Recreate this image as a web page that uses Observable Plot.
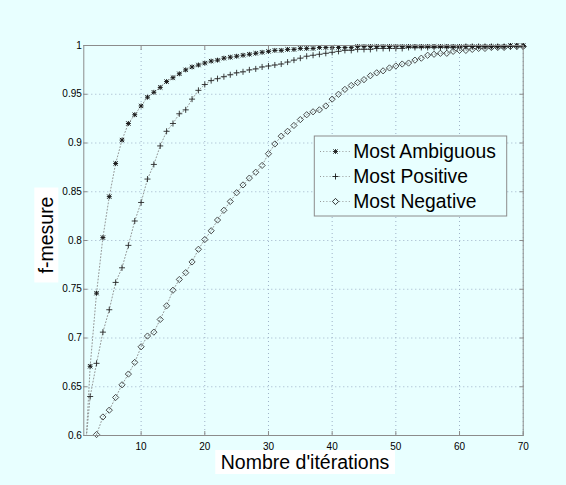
<!DOCTYPE html>
<html><head><meta charset="utf-8">
<script src="https://cdn.jsdelivr.net/npm/d3@7"></script>
<script src="https://cdn.jsdelivr.net/npm/@observablehq/plot@0.6"></script>
<style>html,body{margin:0;padding:0;background:#e8ffff;}</style>
</head><body><div id="chart"></div>
<script>
// ---- data ----
const iterations = [1,2,3,4,5,6,7,8,9,10,11,12,13,14,15,16,17,18,19,20,21,22,23,24,25,26,27,28,29,30,31,32,33,34,35,36,37,38,39,40,41,42,43,44,45,46,47,48,49,50,51,52,53,54,55,56,57,58,59,60,61,62,63,64,65,66,67,68,69,70];
const mostAmbiguous = [0.55,0.671,0.746,0.803,0.845,0.879,0.903,0.920,0.929,0.938,0.947,0.952,0.957,0.963,0.967,0.971,0.975,0.978,0.980,0.982,0.984,0.985,0.987,0.988,0.989,0.990,0.991,0.992,0.993,0.994,0.995,0.995,0.996,0.996,0.997,0.997,0.997,0.998,0.998,0.998,0.998,0.998,0.998,0.999,0.999,0.999,0.999,0.999,0.999,0.999,0.999,0.999,0.999,0.999,0.999,0.999,0.999,0.999,0.999,0.999,0.999,0.999,0.999,0.999,0.999,0.999,0.999,1.0,1.0,1.0];
const mostPositive = [0.57,0.640,0.674,0.706,0.729,0.757,0.772,0.795,0.820,0.839,0.863,0.878,0.897,0.912,0.920,0.930,0.934,0.945,0.954,0.960,0.964,0.966,0.968,0.970,0.972,0.973,0.975,0.976,0.978,0.979,0.980,0.981,0.983,0.985,0.987,0.989,0.990,0.991,0.992,0.993,0.994,0.995,0.995,0.996,0.996,0.996,0.997,0.997,0.997,0.997,0.997,0.998,0.998,0.998,0.998,0.998,0.998,0.998,0.998,0.998,0.999,0.999,0.999,0.999,0.999,0.999,0.999,0.999,0.999,0.999];
const mostNegative = [null,null,0.601,0.619,0.626,0.639,0.652,0.663,0.675,0.691,0.702,0.706,0.719,0.733,0.749,0.760,0.767,0.778,0.791,0.801,0.810,0.821,0.831,0.840,0.849,0.857,0.864,0.870,0.877,0.889,0.899,0.907,0.912,0.918,0.924,0.929,0.932,0.934,0.938,0.945,0.950,0.955,0.959,0.962,0.965,0.969,0.972,0.974,0.977,0.979,0.981,0.982,0.985,0.987,0.990,0.991,0.992,0.992,0.994,0.995,0.995,0.996,0.997,0.997,0.998,0.998,0.998,0.999,0.999,0.999];
const xTicks = [10,20,30,40,50,60,70];
const yTicks = [0.6,0.65,0.7,0.75,0.8,0.85,0.9,0.95,1];
const yTickLabels = ["0.6","0.65","0.7","0.75","0.8","0.85","0.9","0.95","1"];
const seriesNames = ["Most Ambiguous","Most Positive","Most Negative"];
const xLabel = "Nombre d'itérations";
const yLabel = "f-mesure";

// ---- build ----
const rows = s => iterations.map((x, i) => ({x, y: s[i]})).filter(d => d.y != null);
const inView = a => a.filter(d => d.y >= 0.6);
const amb = rows(mostAmbiguous), pos = rows(mostPositive), neg = rows(mostNegative);

const BG = "#e8ffff", AX = "#8c8c8c", LN = "#8a8a8a";
const FONT = "'Liberation Sans', Arial, Helvetica, sans-serif";
const grid = {stroke: "#9fb2c8", strokeOpacity: 1, strokeDasharray: "1,3", strokeWidth: 1};
const lineOpt = {x: "x", y: "y", stroke: LN, strokeWidth: 0.9, strokeDasharray: "1,2.2", clip: true};

const chart = Plot.plot({
  width: 566, height: 485,
  marginLeft: 83.3, marginRight: 43.3, marginTop: 45, marginBottom: 50,
  style: {background: BG, fontFamily: FONT, fontSize: "10px", color: "#000", overflow: "visible"},
  x: {domain: [1, 70]},
  y: {domain: [0.6, 1]},
  marks: [
    Plot.gridX(xTicks, grid),
    Plot.gridY(yTicks.slice(1, -1), grid),
    Plot.line(amb, lineOpt),
    Plot.line(pos, lineOpt),
    Plot.line(neg, lineOpt),
    Plot.dot(inView(neg), {x: "x", y: "y", symbol: "diamond2", r: 2.8, stroke: "#3a3a3a", fill: "none", strokeWidth: 0.9}),
    Plot.dot(inView(pos), {x: "x", y: "y", symbol: "plus", r: 2.1, stroke: "#2a2a2a", strokeWidth: 0.9}),
    Plot.dot(inView(amb), {x: "x", y: "y", symbol: "plus", r: 1.7, stroke: "#1a1a1a", strokeWidth: 1}),
    Plot.dot(inView(amb), {x: "x", y: "y", symbol: "times", r: 2.1, stroke: "#1a1a1a", strokeWidth: 1}),
    Plot.frame({stroke: AX}),
    Plot.axisX(xTicks, {anchor: "bottom", tickSize: -4, tickPadding: 11, stroke: AX, label: null}),
    Plot.axisX(xTicks, {anchor: "top", tickSize: -4, tickFormat: () => "", stroke: AX, label: null}),
    Plot.axisY(yTicks, {anchor: "left", tickSize: -4, tickPadding: 6, stroke: AX, label: null,
      tickFormat: d => yTickLabels[yTicks.indexOf(d)]}),
    Plot.axisY(yTicks, {anchor: "right", tickSize: -4, tickFormat: () => "", stroke: AX, label: null})
  ]
});
document.getElementById("chart").appendChild(chart);

// ---- axis labels with white boxes, and legend ----
const svg = d3.select(chart);
function boxedLabel(text, x, y, rotate, padX, padY) {
  const g = svg.append("g").attr("transform", `translate(${x},${y}) rotate(${rotate})`);
  const r = g.append("rect").attr("fill", "#fff");
  const t = g.append("text").text(text).attr("text-anchor", "middle")
    .attr("font-family", FONT).attr("font-size", "19.5px").attr("fill", "#000");
  const b = t.node().getBBox();
  r.attr("x", b.x - padX).attr("y", b.y - padY).attr("width", b.width + 2 * padX).attr("height", b.height + 2 * padY);
}
boxedLabel(xLabel, 305, 469, 0, 5.5, 1);
boxedLabel(yLabel, 53.3, 235, -90, 9, 1);

const lg = svg.append("g");
lg.append("rect").attr("x", 314.3).attr("y", 136).attr("width", 192.4).attr("height", 80)
  .attr("fill", BG).attr("stroke", AX).attr("stroke-width", 1);
const symSize = r => Math.PI * r * r;
const legendSymbols = [
  [[d3.symbolPlus, 1.7], [d3.symbolTimes, 2.1]],
  [[d3.symbolPlus, 2.1]],
  [[d3.symbolDiamond2, 2.8]]
];
seriesNames.forEach((name, i) => {
  const cy = 151.5 + i * 25;
  lg.append("line").attr("x1", 320).attr("x2", 351).attr("y1", cy).attr("y2", cy)
    .attr("stroke", LN).attr("stroke-width", 0.9).attr("stroke-dasharray", "1,2.2");
  legendSymbols[i].forEach(([type, r]) => {
    lg.append("path").attr("d", d3.symbol(type, symSize(r))())
      .attr("transform", `translate(335.5,${cy})`)
      .attr("fill", BG).attr("stroke", "#1a1a1a").attr("stroke-width", 0.9);
  });
  lg.append("text").text(name).attr("x", 353.3).attr("y", cy + 6.3).attr("text-anchor", "start")
    .attr("font-family", FONT).attr("font-size", "19.3px").attr("fill", "#000");
});
</script></body></html>
